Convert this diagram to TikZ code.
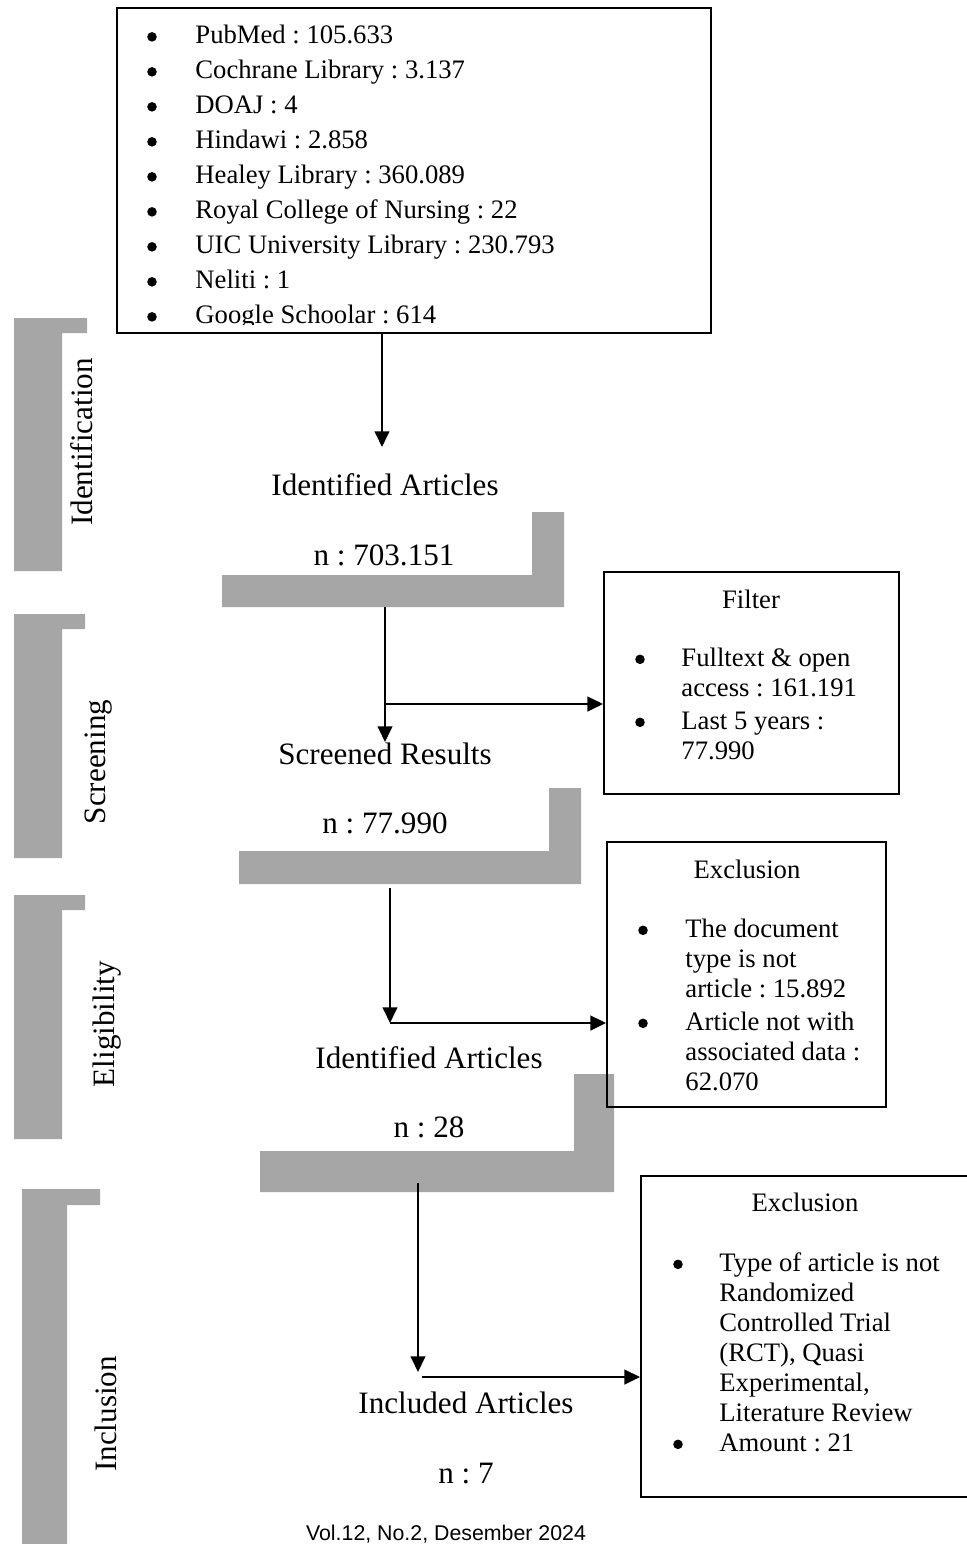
\documentclass[tikz,border=0pt]{standalone}
\usepackage{fontspec}
\setmainfont{Liberation Serif}
\newfontfamily\footfont{Liberation Sans}
\usepackage{tikz}
\usetikzlibrary{arrows.meta,fit}
\definecolor{bargray}{RGB}{166,166,166}
\newcommand{\stacked}[1]{\begin{tabular}[t]{@{}l@{}}#1\end{tabular}}
\frenchspacing

\begin{document}
\begin{tikzpicture}[x=0.45pt,y=-0.45pt]
	\tikzstyle{boxframe}=[draw=black,line width=0.9pt,inner sep=0pt]
	\tikzstyle{listtext}=[inner sep=0pt,anchor=base west,
				font=\fontsize{12}{13.5}\selectfont]
	\tikzstyle{bulletdot}=[circle,fill=black,inner sep=0pt,minimum size=4.3pt,yshift=3pt]
	\tikzstyle{boxtitle}=[inner sep=0pt,anchor=base,font=\fontsize{12}{13.5}\selectfont]
	\tikzstyle{stagetext}=[inner sep=0pt,anchor=base,font=\fontsize{14}{16}\selectfont]
	\tikzstyle{phasetext}=[stagetext,rotate=90]
	\tikzstyle{graybar}=[fill=bargray]
	\tikzstyle{downarrow}=[line width=1pt,-{Triangle[length=7pt,width=6.5pt]}]
	\tikzstyle{sidearrow}=[line width=1.3pt,-{Triangle[length=7pt,width=6.5pt]}]

	\useasboundingbox (0,0) rectangle (967,1544);

	% phase bars
	\fill[graybar] (14,318) -- (87,318) -- (87,333) -- (62,333) -- (62,571) -- (14,571) -- cycle;
	\fill[graybar] (14,614) -- (85,614) -- (85,629) -- (62,629) -- (62,858) -- (14,858) -- cycle;
	\fill[graybar] (14,895) -- (85,895) -- (85,910) -- (62,910) -- (62,1139) -- (14,1139) -- cycle;
	\fill[graybar] (22,1189) -- (100,1189) -- (100,1205) -- (67,1205) -- (67,1544) -- (22,1544) -- cycle;

	\node[phasetext] (pident) at (92,442) {Identification};
	\node[phasetext] (pscreen) at (105,762) {Screening};
	\node[phasetext] (pelig) at (114,1024) {Eligibility};
	\node[phasetext] (pincl) at (116,1414) {Inclusion};

	% count bars
	\fill[graybar] (532,512) -- (564,512) -- (564,607) -- (222,607) -- (222,575) -- (532,575) -- cycle;
	\fill[graybar] (549,788) -- (581,788) -- (581,884) -- (239,884) -- (239,851) -- (549,851) -- cycle;
	\fill[graybar] (574,1074) -- (614,1074) -- (614,1192) -- (260,1192) -- (260,1151) -- (574,1151) -- cycle;

	% sources
	\node[boxframe, fit={(117,8) (711,333)}] (src) {};
	\begin{scope}
		\clip (117,8) rectangle (711,324);
		\node[bulletdot] (s1) at (152,43.5) {};
		\node[listtext] (t1) at (195,43.5) {PubMed : 105.633};
		\node[bulletdot] (s2) at (152,78.5) {};
		\node[listtext] (t2) at (195,78.5) {Cochrane Library : 3.137};
		\node[bulletdot] (s3) at (152,113.5) {};
		\node[listtext] (t3) at (195,113.5) {DOAJ : 4};
		\node[bulletdot] (s4) at (152,148.5) {};
		\node[listtext] (t4) at (195,148.5) {Hindawi : 2.858};
		\node[bulletdot] (s5) at (152,183.5) {};
		\node[listtext] (t5) at (195,183.5) {Healey Library : 360.089};
		\node[bulletdot] (s6) at (152,218.5) {};
		\node[listtext] (t6) at (195,218.5) {Royal College of Nursing : 22};
		\node[bulletdot] (s7) at (152,253.5) {};
		\node[listtext] (t7) at (195,253.5) {UIC University Library : 230.793};
		\node[bulletdot] (s8) at (152,288.5) {};
		\node[listtext] (t8) at (195,288.5) {Neliti : 1};
		\node[bulletdot] (s9) at (152,323.5) {};
		\node[listtext] (t9) at (195,323.5) {Google Schoolar : 614};
	\end{scope}

	% stages
	\node[stagetext] (ident) at (385,495) {Identified Articles};
	\node[stagetext] (identn) at (384,565) {n : 703.151};
	\node[stagetext] (screen) at (385,764) {Screened Results};
	\node[stagetext] (screenn) at (385,833) {n : 77.990};
	\node[stagetext] (elig) at (429,1068) {Identified Articles};
	\node[stagetext] (elign) at (429,1137) {n : 28};
	\node[stagetext] (incl) at (466,1413) {Included Articles};
	\node[stagetext] (incln) at (466,1483) {n : 7};

	% filter
	\node[boxframe, fit={(604,572) (899,794)}] (filt) {};
	\node[boxtitle] (filtt) at (751,608) {Filter};
	\node[bulletdot] (f1) at (640,666) {};
	\node[listtext] (ft1) at (681,666) {\stacked{Fulltext \& open\\access : 161.191}};
	\node[bulletdot] (f2) at (640,729) {};
	\node[listtext] (ft2) at (681,729) {\stacked{Last 5 years :\\77.990}};

	% exclusion 1
	\node[boxframe, fit={(607,842) (886,1107)}] (excla) {};
	\node[boxtitle] (exclat) at (747,878) {Exclusion};
	\node[bulletdot] (e1) at (643,937) {};
	\node[listtext] (et1) at (685,937) {\stacked{The document\\type is not\\article : 15.892}};
	\node[bulletdot] (e2) at (643,1030) {};
	\node[listtext] (et2) at (685,1030) {\stacked{Article not with\\associated data :\\62.070}};

	% exclusion 2
	\node[boxframe, fit={(641,1176) (980,1497)}] (exclb) {};
	\node[boxtitle] (exclbt) at (805,1211) {Exclusion};
	\node[bulletdot] (g1) at (678,1271) {};
	\node[listtext] (gt1) at (719,1271) {\stacked{Type of article is not\\Randomized\\Controlled Trial\\(RCT), Quasi\\Experimental,\\Literature Review}};
	\node[bulletdot] (g2) at (678,1451) {};
	\node[listtext] (gt2) at (719,1451) {Amount : 21};

	% arrows
	\coordinate (a1) at (382,447);
	\coordinate (b2) at (385,607);
	\coordinate (a2) at (385,742);
	\coordinate (c2) at (385,704);
	\coordinate (b3) at (390,888);
	\coordinate (a3) at (390,1023);
	\coordinate (b4) at (418,1183);
	\coordinate (a4) at (418,1372);
	\coordinate (c4) at (422,1377);

	\draw[downarrow] (src.south -| a1) -- (a1);
	\draw[downarrow] (b2) -- (a2);
	\draw[sidearrow] (c2) -- (c2 -| filt.west);
	\draw[downarrow] (b3) -- (a3);
	\draw[sidearrow] (a3) -- (a3 -| excla.west);
	\draw[downarrow] (b4) -- (a4);
	\draw[sidearrow] (c4) -- (c4 -| exclb.west);

	\node[font=\footfont\fontsize{9.6}{11}\selectfont, inner sep=0pt, anchor=base] (foot) at (446,1540) {Vol.12, No.2, Desember 2024};
\end{tikzpicture}
\end{document}
